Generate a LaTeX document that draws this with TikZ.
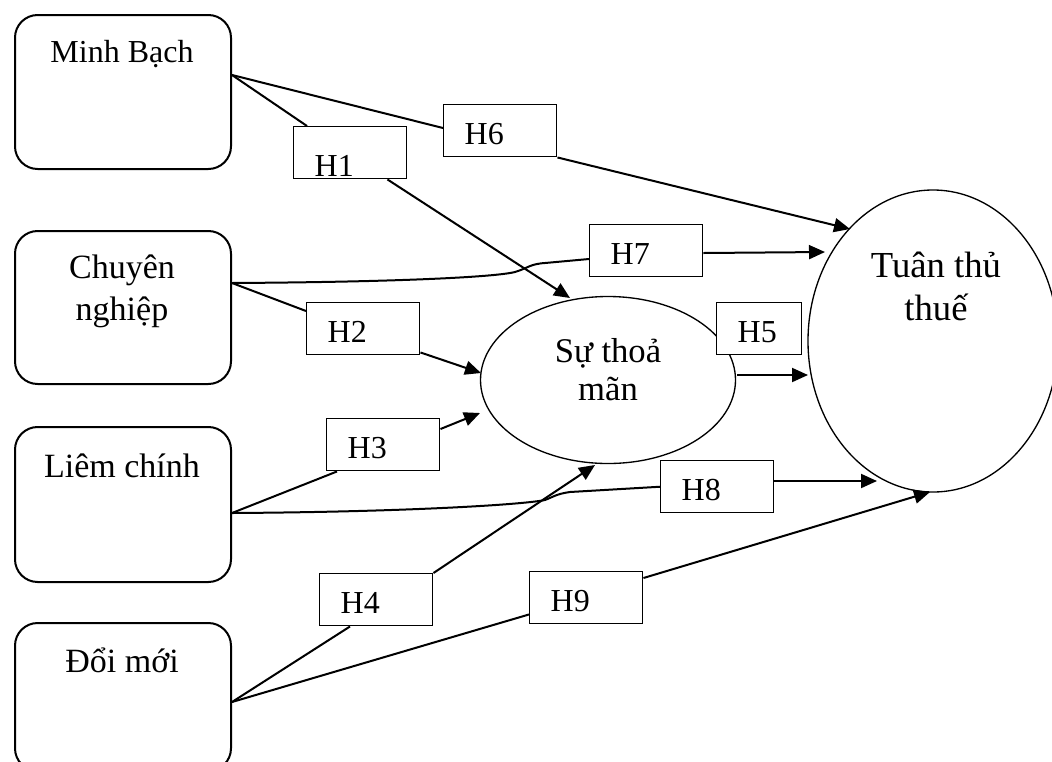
\documentclass[tikz,border=0pt]{standalone}
\usepackage{fontspec}
\setmainfont{Liberation Serif}
\usetikzlibrary{shapes.geometric,arrows.meta,calc}

\begin{document}
\begin{tikzpicture}[x=0.75pt,y=-0.75pt,
  factor/.style={draw, line width=1.5pt, rounded corners=17pt, minimum width=162pt,
    inner sep=0pt, anchor=north west},
  oval/.style={draw, ellipse, line width=1pt, inner sep=0pt},
  txt/.style={inner sep=0pt, font=\fontsize{25.5pt}{31.5pt}\selectfont},
  hyp/.style={draw, fill=white, line width=1.1pt, anchor=north west, inner xsep=15.75pt,
    inner ysep=0pt, text width=53.25pt, align=left, text height=30pt, text depth=9pt,
    font=\fontsize{24pt}{28pt}\selectfont},
  conn/.style={line width=1.5pt},
  arr/.style={conn, -{Triangle[length=12pt,width=10.5pt]}}
]
\clip (0,0) rectangle (1052,761);

% factor boxes on the left
\node[factor, minimum height=115.5pt]  (mb) at (14,14)  {};
\node[factor, minimum height=114.75pt] (cn) at (14,230) {};
\node[factor, minimum height=116.25pt] (lc) at (14,426) {};
\node[factor, minimum height=111pt]    (dm) at (14,622) {};

% box captions (multi-line nodes sit on the baseline of their last line)
\node[txt, anchor=base, font=\fontsize{24pt}{28pt}\selectfont] (mbt) at (122,62) {Minh Bạch};
\node[txt, anchor=base, align=center] (cnt) at (122,320) {Chuyên\\nghiệp};
\node[txt, anchor=base] (lct) at (122,477) {Liêm chính};
\node[txt, anchor=base] (dmt) at (122,672) {Đổi mới};

% mediator and outcome
\node[oval, minimum width=191.25pt, minimum height=125.25pt] (st) at (608,380) {};
\node[oval, minimum width=187.5pt,  minimum height=226.5pt]  (tt) at (933,341) {};

\node[txt, anchor=base, align=center, font=\fontsize{26pt}{28.5pt}\selectfont] (stt) at (608,400) {Sự thoả\\mãn};
\node[txt, anchor=base, align=center, font=\fontsize{27.5pt}{32.25pt}\selectfont] (ttt) at (936,320) {Tuân thủ\\thuế};

% hypothesis labels
\node[hyp, text height=37.5pt, text depth=1.5pt] (h1) at (293,126) {H1};
\node[hyp] (h6) at (443,104) {H6};
\node[hyp] (h7) at (589,224) {H7};
\node[hyp] (h2) at (306,302) {H2};
\node[hyp, minimum width=63.75pt, text width=32.25pt] (h5) at (716,302) {H5};
\node[hyp] (h3) at (326,418) {H3};
\node[hyp] (h8) at (660,460) {H8};
\node[hyp] (h4) at (319,573) {H4};
\node[hyp] (h9) at (529,571) {H9};

% Minh Bach
\draw[conn] ($(mb.north east)+(0,61)$) -- ($(h1.north west)+(14,0)$);
\draw[arr]  ($(h1.south east)+(-20,0)$) -- ($(st.center)+(-38,-82)$);
\draw[conn] ($(mb.north east)+(0,61)$) -- ($(h6.north west)+(0,24)$);
\draw[arr]  (h6.south east) -- ($(tt.center)+(-83,-112)$);

% Chuyen nghiep
\draw[conn] ($(cn.north east)+(0,53)$) .. controls (400,282) and (495,277) .. (515,272)
            .. controls (528,268) and (530,264) .. (545,263) -- ($(h7.north west)+(0,35)$);
\draw[arr]  ($(h7.north east)+(0,29)$) -- ($(tt.center)+(-108,-89)$);
\draw[conn] ($(cn.north east)+(0,53)$) -- ($(h2.north west)+(0,9)$);
\draw[arr]  ($(h2.south east)+(0,-3)$) -- ($(st.center)+(-127,-7)$);

% Liem chinh
\draw[conn] ($(lc.north east)+(0,87)$) -- ($(h3.south west)+(11,0)$);
\draw[arr]  ($(h3.north east)+(0,11)$) -- ($(st.center)+(-128,33)$);
\draw[conn] ($(lc.north east)+(0,87)$) .. controls (400,512) and (520,505) .. (545,500)
            .. controls (553,497) and (556,494) .. (570,492) -- (h8.west);
\draw[arr]  ($(h8.north east)+(0,21)$) -- ($(tt.center)+(-56,140)$);

% Doi moi
\draw[conn] ($(dm.north east)+(0,80)$) -- ($(h4.south west)+(31,0)$);
\draw[arr]  (h4.north east) -- ($(st.center)+(-13,85)$);
\draw[conn] ($(dm.north east)+(0,80)$) -- ($(h9.south west)+(0,-10)$);
\draw[arr]  ($(h9.north east)+(0,7)$) -- ($(tt.center)+(-3,151)$);

% mediator to outcome
\draw[arr]  ($(st.center)+(129,-5)$) -- ($(tt.center)+(-125,34)$);
\end{tikzpicture}
\end{document}
